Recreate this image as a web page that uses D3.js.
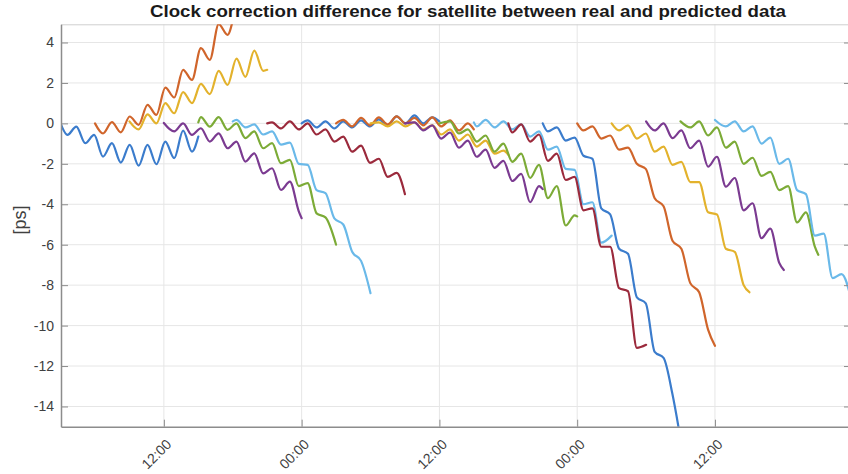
<!DOCTYPE html>
<html>
<head>
<meta charset="utf-8">
<script src="https://cdn.jsdelivr.net/npm/d3@7"></script>
<style>
    html, body { margin: 0; padding: 0; background: #fff; }
    svg { display: block; font-family: "Liberation Sans", Arial, sans-serif; }
</style>
</head>
<body>
<div id="chart"></div>
<script>
'use strict';

// prediction runs start every 3 h (hours after 00:00 of day one) and last 12 h
const runStartHours = [3, 6, 9, 12, 15, 18, 21, 24, 27, 30, 33, 36, 39, 42, 45, 48, 51, 54, 57, 60];
const runLengthHours = 12;

// the ripple turns on a fixed clock: first trough at 03:36, one extremum every 46.5 min
const firstTroughHour = 3.6;
const extremumStepHours = 0.775;

// ps values: run start, every trough / peak inside the run, run end
const run03 = [0.0, -0.57, -0.16, -0.98, -0.57, -1.64, -0.98, -1.94, -1.06, -2.09, -1.06, -2.02, -0.9, -1.72, -0.36, -1.4, -0.65];
const run06 = [0.0, -0.5, 0.06, -0.44, 0.34, -0.07, 0.92, 0.42, 1.77, 1.28, 2.65, 2.15, 3.72, 3.14, 4.91, 4.38, 5.1];
const run09 = [0.1, -0.3, 0.45, 0.0, 1.0, 0.5, 1.55, 1.0, 1.95, 1.45, 2.6, 1.9, 3.2, 2.3, 3.6, 2.6, 2.65];
const run12 = [0.02, -0.4, 0.0, -0.57, -0.24, -0.9, -0.49, -1.23, -0.9, -1.89, -1.48, -2.47, -2.22, -3.29, -2.88, -4.35, -4.69];
const run15 = [0.05, 0.31, -0.16, 0.31, -0.32, 0.0, -0.73, -0.4, -1.23, -0.98, -1.97, -1.8, -3.1, -2.95, -4.45, -4.65, -6.0];
const run18 = [0.1, 0.17, -0.2, -0.05, -0.55, -0.4, -1.05, -0.95, -2.0, -2.05, -3.3, -3.45, -4.7, -5.0, -6.35, -6.8, -8.4];
const run21 = [0.0, 0.05, -0.25, 0.1, -0.3, 0.0, -0.55, -0.3, -0.9, -0.65, -1.4, -1.1, -1.95, -1.75, -2.65, -2.45, -3.5];
const run24 = [0.0, 0.15, -0.2, 0.1, -0.25, 0.1, -0.2, 0.15, -0.15, 0.2, -0.1, 0.35, 0.0, 0.4, 0.0, 0.3, 0.1];
const run27 = [0.0, 0.17, -0.15, 0.27, -0.1, 0.3, -0.05, 0.35, 0.0, 0.27, -0.1, 0.3, -0.15, 0.15, -0.35, 0.0, -0.3];
const run30 = [0.0, 0.05, -0.15, 0.1, -0.15, 0.05, -0.3, -0.1, -0.55, -0.3, -0.85, -0.55, -1.15, -0.85, -1.5, -1.35, -1.55];
const run33 = [0.0, 0.05, -0.35, -0.1, -0.75, -0.45, -1.2, -0.85, -1.65, -1.3, -2.2, -1.85, -2.85, -2.5, -3.9, -3.1, -3.25];
const run36 = [0.0, 0.1, -0.5, -0.3, -0.9, -0.6, -1.4, -1.0, -1.9, -1.5, -2.7, -2.05, -3.7, -3.1, -5.05, -4.55, -4.6];
const run39 = [0.05, -0.15, 0.17, -0.2, 0.1, -0.3, -0.05, -0.65, -0.4, -1.3, -1.15, -2.25, -2.3, -4.0, -3.9, -5.9, -5.55];
const run42 = [0.0, -0.45, -0.05, -0.9, -0.55, -1.85, -1.5, -2.8, -2.65, -4.3, -4.2, -6.1, -6.1, -8.15, -8.3, -11.1, -10.95];
const run45 = [0.0, -0.4, -0.2, -0.85, -0.7, -1.6, -1.75, -4.2, -4.5, -6.2, -6.45, -8.6, -8.9, -11.3, -11.6, -13.4, -15.6];
const run48 = [0.0, -0.35, -0.15, -0.75, -0.6, -1.3, -1.2, -2.0, -2.25, -3.7, -4.1, -5.8, -6.2, -7.9, -8.35, -10.2, -11.0];
const run51 = [0.0, -0.35, -0.1, -0.75, -0.5, -1.4, -1.15, -2.05, -1.9, -2.9, -2.9, -4.4, -4.5, -6.2, -6.35, -8.0, -8.35];
const run54 = [0.1, -0.35, 0.0, -0.73, -0.35, -1.23, -0.85, -2.14, -1.65, -3.13, -2.7, -4.3, -3.95, -5.68, -5.2, -6.9, -7.25];
const run57 = [0.1, -0.2, 0.1, -0.6, -0.2, -1.2, -0.9, -2.0, -1.7, -2.6, -2.4, -3.3, -3.1, -4.9, -4.4, -6.1, -6.5];
const run60 = [0.17, -0.15, 0.1, -0.4, -0.15, -1.0, -0.7, -2.0, -1.75, -3.3, -3.5, -5.55, -5.45, -7.65, -7.45, -9.0];

const runValues = [run03, run06, run09, run12, run15, run18, run21, run24, run27, run30,
    run33, run36, run39, run42, run45, run48, run51, run54, run57, run60];

const xDomainHours = [3.04, 71.85];
const xTickHours = [12, 24, 36, 48, 60];
const yDomain = [-15, 4.9];
const yTicks = [-14, -12, -10, -8, -6, -4, -2, 0, 2, 4];

const titleText = 'Clock correction difference for satellite between real and predicted data';
const yLabelText = '[ps]';

// matlab line colour order, a little washed out like the picture
const lineColours = ['#3b7ccc', '#d0652b', '#e3b22c', '#7b3b91', '#7cab37', '#6ab9e9', '#9b2a3c'];

const width = 848;
const height = 474;
const margin = { top: 24.3, right: -3, bottom: 47.3, left: 61 };
const chartWidth = width - margin.left - margin.right;
const chartHeight = height - margin.top - margin.bottom;

const dayZero = new Date(2021, 0, 1, 0, 0, 0);
function hoursToDate(h) {
    return new Date(dayZero.getTime() + h * 3600 * 1000);
}

const extremumHours = d3.range(0, 100).map(function (j) {
    return firstTroughHour + j * extremumStepHours;
});

function runPoints(start, values) {
    const inner = extremumHours
        .filter(function (h) { return h > start + 0.2; })
        .slice(0, values.length - 2);
    const pts = [[start, values[0]]];
    inner.forEach(function (h, i) {
        pts.push([h, values[i + 1]]);
    });
    pts.push([start + runLengthHours, values[values.length - 1]]);
    return pts;
}

const runs = runStartHours.map(function (s, i) {
    return { start: s, colour: lineColours[i % lineColours.length], points: runPoints(s, runValues[i]) };
});

const svg = d3.select('#chart')
    .append('svg')
    .attr('width', width)
    .attr('height', height);

svg.append('rect')
    .attr('width', width)
    .attr('height', height)
    .attr('fill', '#ffffff');

const chart = svg.append('g')
    .attr('transform', `translate(${margin.left},${margin.top})`);

const xScale = d3.scaleTime()
    .domain([hoursToDate(xDomainHours[0]), hoursToDate(xDomainHours[1])])
    .range([0, chartWidth]);

const yScale = d3.scaleLinear()
    .domain(yDomain)
    .range([chartHeight, 0]);

// grid
chart.append('g')
    .selectAll('line')
    .data(xTickHours)
    .join('line')
    .attr('x1', function (d) { return xScale(hoursToDate(d)); })
    .attr('x2', function (d) { return xScale(hoursToDate(d)); })
    .attr('y1', 0)
    .attr('y2', chartHeight)
    .attr('stroke', '#e6e6e6')
    .attr('stroke-width', 1);

chart.append('g')
    .selectAll('line')
    .data(yTicks)
    .join('line')
    .attr('x1', 0)
    .attr('x2', chartWidth)
    .attr('y1', function (d) { return yScale(d); })
    .attr('y2', function (d) { return yScale(d); })
    .attr('stroke', '#e6e6e6')
    .attr('stroke-width', 1);

// top edge of the box
chart.append('line')
    .attr('x1', 0)
    .attr('x2', chartWidth)
    .attr('y1', 0.5)
    .attr('y2', 0.5)
    .attr('stroke', '#cfcfcf');

// lines
chart.append('clipPath')
    .attr('id', 'plot-clip')
    .append('rect')
    .attr('width', chartWidth)
    .attr('height', chartHeight);

const line = d3.line()
    .x(function (d) { return xScale(hoursToDate(d[0])); })
    .y(function (d) { return yScale(d[1]); })
    .curve(d3.curveMonotoneX);

chart.append('g')
    .attr('clip-path', 'url(#plot-clip)')
    .selectAll('path')
    .data(runs)
    .join('path')
    .attr('d', function (d) { return line(d.points); })
    .attr('fill', 'none')
    .attr('stroke', function (d) { return d.colour; })
    .attr('stroke-width', 2.2)
    .attr('stroke-linejoin', 'round')
    .attr('stroke-linecap', 'round');

// axes, ticks point inward like matlab
const axisColour = '#8c8c8c';
const labelColour = '#404040';

const yAxis = chart.append('g')
    .call(d3.axisLeft(yScale)
        .tickValues(yTicks)
        .tickSize(-7)
        .tickSizeOuter(0)
        .tickPadding(7)
        .tickFormat(function (d) { return String(d); }));

const yAxisRight = chart.append('g')
    .attr('transform', `translate(${chartWidth},0)`)
    .call(d3.axisRight(yScale).tickValues(yTicks).tickSize(-7).tickSizeOuter(0).tickFormat(''));

const xAxis = chart.append('g')
    .attr('transform', `translate(0,${chartHeight})`)
    .call(d3.axisBottom(xScale)
        .tickValues(xTickHours.map(hoursToDate))
        .tickSize(-7)
        .tickSizeOuter(0)
        .tickFormat(d3.timeFormat('%H:%M')));

[yAxis, yAxisRight, xAxis].forEach(function (g) {
    g.select('.domain').attr('stroke', axisColour).attr('stroke-width', 1.5);
    g.selectAll('.tick line').attr('stroke', axisColour).attr('stroke-width', 1);
    g.selectAll('.tick text')
        .attr('fill', labelColour)
        .attr('font-size', 14)
        .attr('font-family', '"Liberation Sans", Arial, sans-serif');
});

xAxis.selectAll('.tick text')
    .attr('x', 0)
    .attr('y', 0)
    .attr('dy', 0)
    .attr('text-anchor', 'end')
    .attr('transform', 'translate(8,18.5) rotate(-45)');

// title and axis label
svg.append('text')
    .attr('x', 468)
    .attr('y', 17)
    .attr('text-anchor', 'middle')
    .attr('font-size', 17)
    .attr('font-weight', 700)
    .attr('fill', '#1a1a1a')
    .attr('textLength', 636)
    .attr('lengthAdjust', 'spacingAndGlyphs')
    .text(titleText);

svg.append('text')
    .attr('transform', 'translate(26,220) rotate(-90)')
    .attr('text-anchor', 'middle')
    .attr('font-size', 18)
    .attr('fill', labelColour)
    .text(yLabelText);
</script>
</body>
</html>
